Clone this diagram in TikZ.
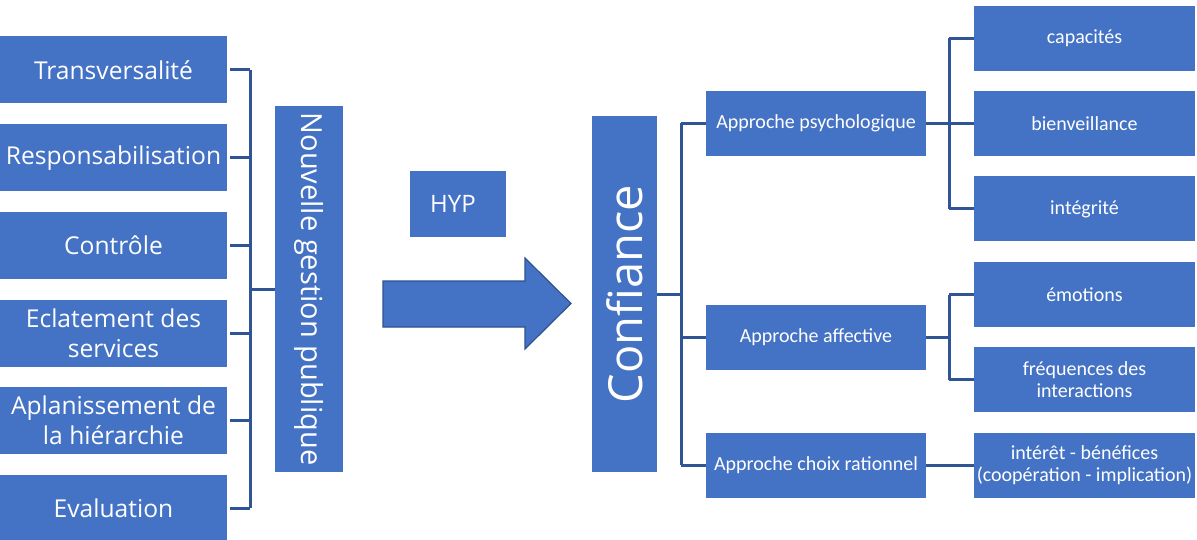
\documentclass[tikz,border=0pt]{standalone}
\usepackage{fontspec}
\setmainfont{Open Sans}
\newfontfamily\calfont{Carlito}
\definecolor{boxblue}{HTML}{4472C4}
\definecolor{lineblue}{HTML}{2F5597}
\definecolor{arrowedge}{HTML}{2F528F}
\begin{document}
\begin{tikzpicture}[x=1pt,y=-1pt,
  box/.style={fill=boxblue, text=white, inner sep=0pt, align=center, draw=none},
  leftbox/.style={box, minimum width=227pt, minimum height=67pt, font=\fontsize{24.6}{30}\selectfont},
  midbox/.style={box, minimum width=220pt, minimum height=65pt, font=\calfont\fontsize{20}{22}\selectfont},
  rightbox/.style={box, minimum width=221pt, minimum height=65pt, font=\calfont\fontsize{20}{22}\selectfont},
  conn/.style={draw=lineblue, line width=3pt}
]
\useasboundingbox (0,0) rectangle (1197,540);
\fill[white] (0,0) rectangle (1197,540);

% left column
\node[leftbox] (t) at (113.5,70) {Transversalité};
\node[leftbox] (r) at (113.5,158) {Responsabilisation};
\node[leftbox] (c) at (113.5,245.5) {Contrôle};
\node[leftbox] (e) at (113.5,333) {Eclatement des\\services};
\node[leftbox] (a) at (113.5,420.5) {Aplanissement de\\la hiérarchie};
\node[leftbox] (ev) at (113.5,508) {Evaluation};

\node[box, minimum width=68pt, minimum height=366pt] (ngp) at (309,289) {};
\node[text=white, rotate=-90, inner sep=0pt, font=\fontsize{29}{30}\selectfont] (ngpt) at (ngp.center) {Nouvelle gestion publique};

\coordinate (lv) at (250,0);
\foreach \n in {t,r,c,e,a,ev}{
  \draw[conn] ([xshift=3pt]\n.east) -- (\n.east -| lv);
}
\draw[conn] (t.east -| lv) -- (ev.east -| lv);
\draw[conn] (ngp.west -| lv) -- (ngp.west);

% HYP
\node[box, minimum width=96pt, minimum height=66pt, font=\fontsize{24}{28}\selectfont] (hyp) at (458,204) {\hspace*{-10pt}HYP};

% big arrow
\draw[fill=boxblue, draw=arrowedge, line width=1.2pt, line join=miter]
  (383,281) -- (525,281) -- (525,258) -- (571,303.5) -- (525,349) -- (525,327) -- (383,327) -- cycle;

% Confiance
\node[box, minimum width=65pt, minimum height=356pt] (conf) at (624.5,294) {};
\node[text=white, rotate=90, inner sep=0pt, font=\fontsize{47}{50}\selectfont] (conft) at (conf.center) {Confiance};

% approaches
\node[midbox] (psy) at (816,123.5) {Approche psychologique};
\node[midbox] (aff) at (816,337) {Approche affective};
\node[midbox] (rat) at (816,465) {Approche choix rationnel};

\coordinate (mv) at (681,0);
\draw[conn] (conf.east) -- (conf.east -| mv);
\draw[conn] (psy.west -| mv) -- (rat.west -| mv);
\foreach \n in {psy,aff,rat}{
  \draw[conn] (\n.west -| mv) -- (\n.west);
}

% right column
\node[rightbox] (cap) at (1084.5,38.5) {capacités};
\node[rightbox] (bie) at (1084.5,123.5) {bienveillance};
\node[rightbox] (int) at (1084.5,209) {intégrité};
\node[rightbox] (emo) at (1084.5,294.5) {émotions};
\node[rightbox] (fre) at (1084.5,379.5) {fréquences des\\interactions};
\node[rightbox] (ben) at (1084.5,465) {intérêt - bénéfices\\(coopération - implication)};

\coordinate (rv) at (949,0);
\draw[conn] (psy.east) -- (psy.east -| rv);
\draw[conn] (cap.west -| rv) -- (int.west -| rv);
\foreach \n in {cap,bie,int}{
  \draw[conn] (\n.west -| rv) -- (\n.west);
}
\draw[conn] (aff.east) -- (aff.east -| rv);
\draw[conn] (emo.west -| rv) -- (fre.west -| rv);
\foreach \n in {emo,fre}{
  \draw[conn] (\n.west -| rv) -- (\n.west);
}
\draw[conn] (rat.east) -- (ben.west);
\end{tikzpicture}
\end{document}
